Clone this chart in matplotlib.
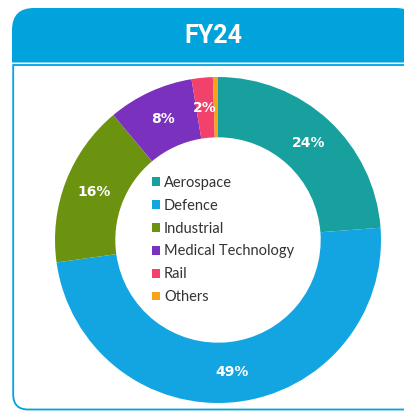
import numpy as np
import matplotlib
matplotlib.use('Agg')
import matplotlib.pyplot as plt
from matplotlib.path import Path
from matplotlib.patches import PathPatch

# segment shares and printed labels
sectors = ['Aerospace', 'Defence', 'Industrial', 'Medical Technology', 'Rail', 'Others']
shares = [23.8, 49.0, 16.1, 8.5, 2.1, 0.5]
pct_labels = ['24%', '49%', '16%', '8%', '2%', '']
colors = ['#17a09e', '#13a5e2', '#6b930f', '#7a32be', '#f2416b', '#f7a21b']
title = 'FY24'
blue = '#00a3dc'


def rpath(x0, y0, x1, y1, tl=0, tr=0, br=0, bl=0):
    verts = [(x0 + tl, y0), (x1 - tr, y0), (x1, y0), (x1, y0 + tr),
             (x1, y1 - br), (x1, y1), (x1 - br, y1), (x0 + bl, y1),
             (x0, y1), (x0, y1 - bl), (x0, y0 + tl), (x0, y0), (x0 + tl, y0),
             (x0 + tl, y0)]
    codes = [Path.MOVETO, Path.LINETO, Path.CURVE3, Path.CURVE3,
             Path.LINETO, Path.CURVE3, Path.CURVE3, Path.LINETO,
             Path.CURVE3, Path.CURVE3, Path.LINETO, Path.CURVE3, Path.CURVE3,
             Path.CLOSEPOLY]
    return Path(verts, codes)


W, H = 404, 412
fig = plt.figure(figsize=(W / 100, H / 100), dpi=100)
fig.patch.set_facecolor('white')

# background frame in pixel coordinates
bg = fig.add_axes([0, 0, 1, 1])
bg.set_xlim(0, W)
bg.set_ylim(H, 0)
bg.axis('off')
bg.add_patch(PathPatch(rpath(12, 8, 418, 62.5, tl=22, tr=22),
                       facecolor=blue, edgecolor='none'))
bg.add_patch(PathPatch(rpath(13.2, 65, 430, 409.5, bl=15),
                       facecolor='white', edgecolor=blue, lw=1.3))
bg.text(213, 36, title, color='white', fontsize=18, fontweight='bold',
        family='Roboto', ha='center', va='center')

# donut
cx, cy, R = 218, 240, 163
ax = fig.add_axes([(cx - R) / W, (H - cy - R) / H, 2 * R / W, 2 * R / H])
wedges, _ = ax.pie(shares, colors=colors, startangle=90, counterclock=False,
                   radius=1, wedgeprops=dict(width=0.37, linewidth=0))
ax.set_xlim(-1, 1)
ax.set_ylim(-1, 1)
ax.set_aspect('equal')
ax.axis('off')

for w, lab in zip(wedges, pct_labels):
    if not lab:
        continue
    mid = np.deg2rad((w.theta1 + w.theta2) / 2)
    r = 0.815
    ax.text(r * np.cos(mid), r * np.sin(mid), lab, color='white',
            fontsize=10, fontweight='bold', ha='center', va='center')

leg = ax.legend(wedges, sectors, loc='center', bbox_to_anchor=(0.515, 0.5),
                frameon=False, handlelength=0.55,
                handleheight=0.55, handletextpad=0.3, labelspacing=0.61,
                prop={'family': 'Lato', 'size': 10.5})
for t in leg.get_texts():
    t.set_color('#333333')

fig.savefig('out.png', dpi=100, facecolor='white')
